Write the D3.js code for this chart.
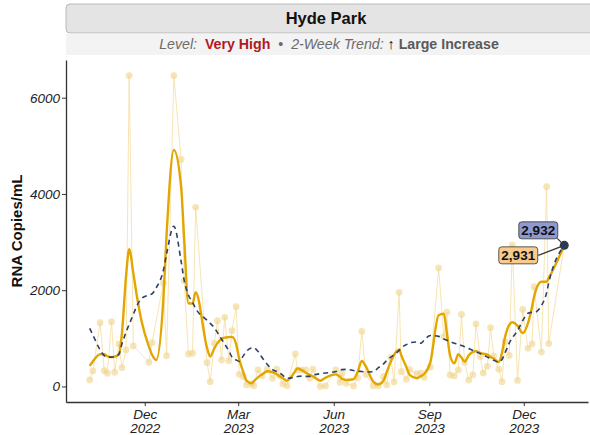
<!DOCTYPE html>
<html>
<head>
<meta charset="utf-8">
<script src="https://cdn.jsdelivr.net/npm/d3@7"></script>
<style>
  body { margin: 0; background: #fff; }
  svg { display: block; font-family: "Liberation Sans", Arial, Helvetica, sans-serif; }
</style>
</head>
<body>
<svg id="chart" width="590" height="435"></svg>
<script>
const siteName = 'Hyde Park';
const levelText = 'Very High';
const trendText = 'Large Increase';

// sample dates (null raw value = no sample drawn on that date)
const sampleDates = [
  '2022-10-09','2022-10-12','2022-10-19','2022-10-23','2022-10-26','2022-10-30','2022-11-02','2022-11-06','2022-11-09','2022-11-13',
  '2022-11-16','2022-11-20','2022-11-24','2022-11-28','2022-12-05','2022-12-08','2022-12-12','2022-12-19','2022-12-22','2022-12-29',
  '2023-01-05','2023-01-08','2023-01-12','2023-01-16','2023-01-19','2023-01-30','2023-02-02','2023-02-06','2023-02-09','2023-02-13',
  '2023-02-16','2023-02-20','2023-02-23','2023-02-27','2023-03-02','2023-03-06','2023-03-09','2023-03-14','2023-03-16','2023-03-20',
  '2023-03-24','2023-03-29','2023-04-03','2023-04-07','2023-04-10','2023-04-13','2023-04-17','2023-04-25','2023-04-27','2023-05-01',
  '2023-05-05','2023-05-09','2023-05-12','2023-05-19','2023-05-24','2023-06-03','2023-06-07','2023-06-09','2023-06-13','2023-06-20',
  '2023-06-24','2023-06-28','2023-07-02','2023-07-09','2023-07-14','2023-07-19','2023-07-22','2023-07-26','2023-07-29','2023-08-03',
  '2023-08-05','2023-08-10','2023-08-13','2023-08-20','2023-08-24','2023-08-27','2023-09-02','2023-09-10','2023-09-15','2023-09-18',
  '2023-09-21','2023-09-25','2023-09-29','2023-10-02','2023-10-05','2023-10-09','2023-10-13','2023-10-16','2023-10-20','2023-10-23',
  '2023-10-27','2023-10-30','2023-11-02','2023-11-07','2023-11-10','2023-11-13','2023-11-17','2023-11-20','2023-11-25','2023-11-30',
  '2023-12-05','2023-12-09','2023-12-11','2023-12-18','2023-12-23','2023-12-25','2024-01-09'
];

const rawValues = [
  135,322,1325,328,274,1346,295,883,390,758,
  6460,841,null,null,503,910,null,2150,640,6460,
  4718,2197,675,690,3722,494,100,897,1367,550,
  1437,536,1159,1657,253,204,31,52,17,343,
  218,360,170,357,218,52,17,675,340,343,
  343,170,357,0,10,343,87,274,66,10,
  183,1145,250,10,10,204,31,600,95,1956,
  307,150,353,264,274,190,400,2465,1035,1545,
  239,218,343,1495,500,135,242,1300,620,280,
  418,1222,636,357,100,930,644,2939,125,1600,
  793,885,2073,715,4150,890,2932
];

const smoothValues = [
  426,520,670,670,625,610,620,660,1100,2300,
  2850,2350,1800,1350,827,660,550,1850,3150,4912,
  4150,3043,1728,1720,1956,800,620,790,900,990,
  1015,1025,1030,880,570,290,120,66,110,190,
  250,315,295,255,210,170,120,320,375,340,
  285,240,210,120,180,250,200,160,135,150,
  300,530,411,100,40,120,300,520,654,770,
  650,400,239,170,215,260,500,1480,1510,1100,
  650,480,669,600,515,650,720,735,700,680,
  660,610,580,505,700,1030,1280,1333,1260,1110,
  1312,1657,1870,2176,2176,2250,2931
];

const trendValues = [
  1208,1070,760,640,610,610,620,670,880,1130,
  1290,1500,1700,1830,1900,1925,2050,2420,2750,3330,
  2600,2200,1900,1750,1620,1375,1310,1220,1120,980,
  880,740,610,550,520,640,730,800,800,730,
  600,460,350,310,280,230,170,195,205,215,
  210,210,235,265,278,310,345,350,355,330,
  318,310,300,305,390,470,540,610,654,750,
  800,870,905,925,900,960,1060,1040,985,960,
  930,900,870,850,827,790,750,715,685,654,
  610,575,545,505,560,700,900,1010,1160,1370,
  1520,1540,1540,1680,1950,2150,2932
];

const yTicks = [0, 2000, 4000, 6000];
const xTicks = ['2022-12-01','2023-03-01','2023-06-01','2023-09-01','2023-12-01'];

const parse = d3.timeParse('%Y-%m-%d');
const rows = sampleDates.map((d, i) => ({
  date: parse(d), raw: rawValues[i], smooth: smoothValues[i], trend: trendValues[i]
}));
const rawRows = rows.filter(d => d.raw !== null);

const svg = d3.select('#chart');
const margin = { top: 60, right: 2, bottom: 33, left: 66 };
const W = 590, H = 435;

// strip header
svg.append('rect').attr('x', 66).attr('y', 4).attr('width', 540).attr('height', 29)
  .attr('rx', 4).attr('fill', '#e4e4e4').attr('stroke', '#b8b8b8');
svg.append('rect').attr('x', 66).attr('y', 33.5).attr('width', 524).attr('height', 21.5)
  .attr('fill', '#f3f3f3');
svg.append('text').attr('x', 326).attr('y', 24).attr('text-anchor', 'middle')
  .attr('font-size', 16.5).attr('font-weight', 'bold').attr('fill', '#111').text(siteName);

const sub = svg.append('text').attr('x', 329).attr('y', 49).attr('text-anchor', 'middle')
  .attr('font-size', 14.2).attr('fill', '#6b6b6b').attr('xml:space', 'preserve');
sub.append('tspan').attr('font-style', 'italic').text('Level:  ');
sub.append('tspan').attr('font-weight', 'bold').attr('fill', '#b0191e').text(levelText);
sub.append('tspan').text('  •  ');
sub.append('tspan').attr('font-style', 'italic').text('2-Week Trend: ');
sub.append('tspan').attr('font-weight', 'bold').attr('fill', '#000').text('↑');
sub.append('tspan').attr('font-weight', 'bold').attr('fill', '#5a5a5a').text(' ' + trendText);

// scales
const ext = d3.extent(rows, d => d.date);
const pad = (ext[1] - ext[0]) * 0.05;
const x = d3.scaleTime()
  .domain([new Date(+ext[0] - pad), new Date(+ext[1] + pad)])
  .range([margin.left, W - margin.right]);
const yMax = d3.max(rawRows, d => d.raw);
const y = d3.scaleLinear()
  .domain([-yMax * 0.05, yMax * 1.05])
  .range([H - margin.bottom, margin.top]);

// axes
const yAxis = svg.append('g').attr('transform', `translate(${margin.left},0)`)
  .call(d3.axisLeft(y).tickValues(yTicks).tickFormat(d3.format('d')).tickSize(4).tickSizeOuter(0));
yAxis.select('.domain').attr('stroke', '#333').attr('stroke-width', 1.3);
yAxis.selectAll('.tick line').attr('stroke', '#333');
yAxis.selectAll('.tick text').attr('font-size', 13.5).attr('font-style', 'italic')
  .attr('fill', '#222').attr('font-family', null).attr('x', -6);

const xAxis = svg.append('g').attr('transform', `translate(0,${H - margin.bottom})`)
  .call(d3.axisBottom(x).tickValues(xTicks.map(parse)).tickFormat('').tickSize(4).tickSizeOuter(0));
xAxis.select('.domain').attr('stroke', '#333').attr('stroke-width', 1.3);
xAxis.selectAll('.tick line').attr('stroke', '#333');
xAxis.selectAll('.tick text').each(function (d) {
  const t = d3.select(this).attr('font-size', 13.5).attr('font-style', 'italic')
    .attr('fill', '#222').attr('font-family', null).attr('y', 0).attr('dy', null);
  t.append('tspan').attr('x', 0).attr('dy', 16.5).text(d3.timeFormat('%b')(d));
  t.append('tspan').attr('x', 0).attr('dy', 14).text(d3.timeFormat('%Y')(d));
});

svg.append('text')
  .attr('transform', `translate(22,${(margin.top + H - margin.bottom) / 2}) rotate(-90)`)
  .attr('text-anchor', 'middle').attr('font-size', 15).attr('font-weight', 'bold')
  .attr('fill', '#111').text('RNA Copies/mL');

// raw samples
const rawLine = d3.line().x(d => x(d.date)).y(d => y(d.raw));
svg.append('path').datum(rawRows).attr('d', rawLine)
  .attr('fill', 'none').attr('stroke', '#f6dfa6').attr('stroke-width', 1).attr('opacity', 0.85);
svg.append('g').selectAll('circle').data(rawRows).join('circle')
  .attr('cx', d => x(d.date)).attr('cy', d => y(d.raw)).attr('r', 3.4)
  .attr('fill', '#f0d38a').attr('opacity', 0.6);

// smoothed and trend
const smoothLine = d3.line().curve(d3.curveMonotoneX).x(d => x(d.date)).y(d => y(d.smooth));
svg.append('path').datum(rows).attr('d', smoothLine)
  .attr('fill', 'none').attr('stroke', '#e3a600').attr('stroke-width', 2.4)
  .attr('stroke-linejoin', 'round');

const trendLine = d3.line().curve(d3.curveMonotoneX).x(d => x(d.date)).y(d => y(d.trend));
svg.append('path').datum(rows).attr('d', trendLine)
  .attr('fill', 'none').attr('stroke', '#2d4169').attr('stroke-width', 1.6)
  .attr('stroke-dasharray', '5,4');

// end labels
const last = rows[rows.length - 1];
const lx = x(last.date), ly = y(last.trend);
const fmt = d3.format(',');

function tag(cx, cy, w, fill, label) {
  svg.append('rect').attr('x', cx - w / 2).attr('y', cy - 8.5).attr('width', w).attr('height', 17)
    .attr('rx', 3).attr('fill', fill).attr('stroke', '#333').attr('stroke-width', 0.8);
  svg.append('text').attr('x', cx).attr('y', cy + 5).attr('text-anchor', 'middle')
    .attr('font-size', 13.5).attr('font-weight', 'bold').attr('fill', '#111').text(label);
}

svg.append('line').attr('x1', lx - 26).attr('y1', ly + 10).attr('x2', lx).attr('y2', y(last.smooth))
  .attr('stroke', '#333').attr('stroke-width', 1.2);
svg.append('line').attr('x1', lx - 7).attr('y1', ly - 7).attr('x2', lx).attr('y2', ly)
  .attr('stroke', '#333').attr('stroke-width', 1.2);
tag(lx - 46, ly + 10, 39, '#f8ca8c', fmt(last.smooth));
tag(lx - 26, ly - 15, 39, '#8e9ad0', fmt(last.trend));

svg.append('circle').attr('cx', lx).attr('cy', ly).attr('r', 4.5).attr('fill', '#2c3b4f');
</script>
</body>
</html>
